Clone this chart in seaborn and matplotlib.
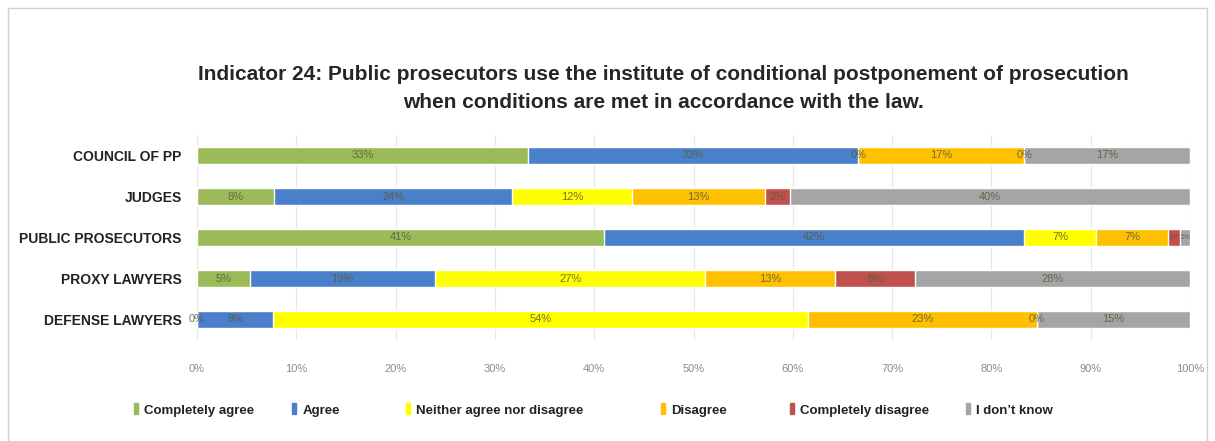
import matplotlib
matplotlib.use('Agg')
import matplotlib.pyplot as plt
from matplotlib.patches import Rectangle
import numpy as np
import pandas as pd
import seaborn as sns

groups = ['COUNCIL OF PP', 'JUDGES', 'PUBLIC PROSECUTORS', 'PROXY LAWYERS', 'DEFENSE LAWYERS']
answers = ['Completely agree', 'Agree', 'Neither agree nor disagree', 'Disagree',
           'Completely disagree', 'I don\u2019t know']
completely_agree = [33.3, 7.8, 41.0, 5.3, 0.0]
agree = [33.3, 23.9, 42.3, 18.7, 7.7]
neither = [0.0, 12.1, 7.2, 27.2, 53.8]
disagree = [16.7, 13.4, 7.3, 13.1, 23.1]
completely_disagree = [0.0, 2.5, 1.2, 8.0, 0.0]
dont_know = [16.7, 40.3, 1.0, 27.7, 15.4]
colors = ['#9BBB59', '#4A7FCB', '#FFFF00', '#FFC000', '#C0504D', '#A5A5A5']

series = [completely_agree, agree, neither, disagree, completely_disagree, dont_know]
df = pd.DataFrame(dict(zip(answers, series)), index=groups)
cum = df.cumsum(axis=1)

sns.set_theme(style='white')
plt.rcParams['font.family'] = ['Liberation Sans', 'DejaVu Sans']

fig = plt.figure(figsize=(12.15, 4.41), dpi=100)
ax = fig.add_axes([197 / 1215, 1 - 340 / 441, 993 / 1215, 205 / 441])

# stacked bars: draw cumulative totals from the back to the front
for i in range(len(answers) - 1, -1, -1):
    layer = pd.DataFrame({'group': groups, 'value': cum.iloc[:, i].values})
    sns.barplot(data=layer, x='value', y='group', color=colors[i], width=0.42,
                orient='h', saturation=1, ax=ax, zorder=2)

# data labels (tiny segments get a smaller label so they don't collide)
for i, ans in enumerate(answers):
    for j, g in enumerate(groups):
        v = df.loc[g, ans]
        center = cum.loc[g, ans] - v / 2
        fs = 8 if (v >= 2 or v == 0) else 5.5
        ax.text(center, j, f'{v:.0f}%', ha='center', va='center', fontsize=fs,
                color='#5a5a3a', alpha=0.85, zorder=5)

ax.set_xlim(0, 100)
ax.set_ylim(4.5, -0.5)
ax.set_xticks(np.arange(0, 101, 10))
ax.set_xticklabels([f'{t}%' for t in range(0, 101, 10)], fontsize=8, color='#8c8c8c')
ax.tick_params(axis='x', pad=17, length=0)
ax.tick_params(axis='y', length=0, pad=11)
for lab in ax.get_yticklabels():
    lab.set_fontweight('bold')
    lab.set_fontsize(10)
    lab.set_color('#222222')
ax.set_xlabel('')
ax.set_ylabel('')
ax.grid(axis='x', color='#e6e6e6', linewidth=0.8, zorder=0)
ax.set_axisbelow(True)
for s in ax.spines.values():
    s.set_visible(False)

fig.text(0.546, 1 - 89 / 441,
         'Indicator 24: Public prosecutors use the institute of conditional postponement of prosecution\n'
         'when conditions are met in accordance with the law.',
         ha='center', va='center', fontsize=15, fontweight='bold', color='#262626',
         linespacing=1.6)

# legend entries placed one by one, as in the reference
legend_x = [141, 299, 413, 668, 797, 973]
for c, ans, lx in zip(colors, answers, legend_x):
    leg = fig.legend([Rectangle((0, 0), 1, 1, color=c)], [ans], loc='center left',
                     bbox_to_anchor=(lx / 1215 - 0.006, 1 - 410 / 441), frameon=False,
                     fontsize=9.5, handlelength=0.3, handleheight=0.9, handletextpad=0.5,
                     borderpad=0, borderaxespad=0)
    for t in leg.get_texts():
        t.set_fontweight('bold')
        t.set_color('#222222')

fig.patches.append(Rectangle((8 / 1215, -0.1), 1199 / 1215, 1.1 - 8 / 441,
                             transform=fig.transFigure, fill=False,
                             edgecolor='#d0d0d0', linewidth=1))

fig.savefig('out.png', dpi=100)
